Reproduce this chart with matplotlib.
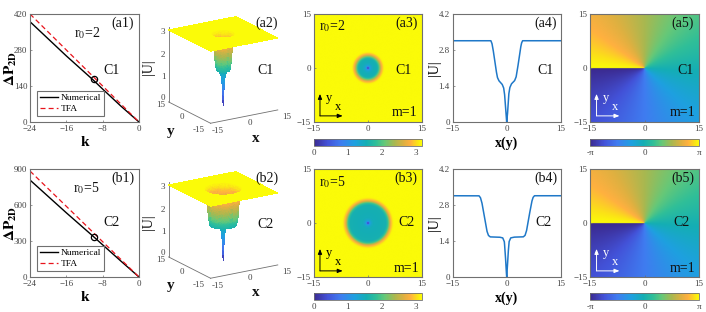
import numpy as np
import matplotlib
matplotlib.use("Agg")
import matplotlib.pyplot as plt
from matplotlib.colors import LinearSegmentedColormap

plt.rcParams['font.family'] = ['Liberation Serif', 'DejaVu Serif']
plt.rcParams['mathtext.fontset'] = 'stix'

W, H = 706, 312

# --- data ---
k_values = [-24, -16, -10, -8, -4, 0]
a_numerical = [390, 257, 162, 128, 62, 0]
a_tfa = [420, 280, 175, 140, 70, 0]
b_numerical = [808, 535, 336, 268, 133, 0]
b_tfa = [883, 589, 368, 294, 147, 0]
a_marker = (-10, 166)
b_marker = (-10, 336)

# cross-section curves (a4, b4)
a_line_r = [0, 0.2, 0.4, 0.6, 0.85, 1.3, 1.8, 2.2, 2.6, 3.0, 3.4, 3.8, 4.1, 4.4, 15]
a_line_u = [0, 0.26, 0.71, 1.10, 1.33, 1.48, 1.55, 1.61, 1.74, 2.06, 2.45, 2.84, 3.06, 3.16, 3.16]
b_line_r = [0, 0.18, 0.37, 0.65, 1.1, 2.0, 4.6, 5.1, 5.5, 6.0, 6.5, 6.9, 7.3, 7.7, 15]
b_line_u = [0, 0.35, 0.86, 1.37, 1.52, 1.55, 1.56, 1.62, 1.79, 2.2, 2.58, 2.9, 3.09, 3.16, 3.16]

# radial amplitude behind the maps and surfaces (a2, a3, b2, b3)
a_field_r = [0, 0.15, 0.3, 0.5, 0.8, 1.5, 2.6, 3.0, 3.4, 3.8, 4.4, 4.8, 15]
a_field_u = [0, 0.3, 0.7, 1.1, 1.35, 1.52, 1.58, 1.9, 2.4, 2.8, 3.12, 3.16, 3.16]
b_field_r = [0, 0.15, 0.3, 0.5, 0.8, 1.5, 5.0, 5.6, 6.0, 6.4, 7.0, 7.4, 15]
b_field_u = [0, 0.3, 0.7, 1.1, 1.35, 1.52, 1.58, 1.9, 2.5, 2.85, 3.12, 3.16, 3.16]

cmap_stops = [0, 0.13, 0.25, 0.38, 0.49, 0.58, 0.66, 0.75, 0.84, 0.9, 0.96, 1.0]
cmap_colors = ['#3b2a8f', '#4352d8', '#3f7cf0', '#1ea0e0', '#14aeb4', '#30bf98',
               '#66c878', '#a8b850', '#e0b040', '#ffb040', '#fbe018', '#fbfb08']
cmap = LinearSegmentedColormap.from_list('parula_like', list(zip(cmap_stops, cmap_colors)))
TICK = '#444444'
VMAX = 3.16


def box(x0, y0, x1, y1, **kw):
    return fig.add_axes([x0 / W, 1 - y1 / H, (x1 - x0) / W, (y1 - y0) / H], **kw)


def style(ax):
    for s in ax.spines.values():
        s.set_color('#707070')
        s.set_linewidth(0.8)
    ax.tick_params(direction='in', length=1.5, width=0.5, color='#707070',
                   labelsize=6.5, labelcolor=TICK, pad=2)


def label(px, py, text, size=10, **kw):
    kw.setdefault('color', '#111111')
    fig.text(px / W, 1 - py / H, text, fontsize=size, ha='center', va='center', **kw)


fig = plt.figure(figsize=(W / 100, H / 100), dpi=100)


def field(r_tab, u_tab, n=201):
    g = np.linspace(-15, 15, n)
    X, Y = np.meshgrid(g, g)
    return X, Y, np.interp(np.hypot(X, Y), r_tab, u_tab)


def panel1(top, ymax, yt, num, tfa, mark, tag, r0, cx, rpos, cpos, off):
    ax = box(30, top, 139, top + 108)
    style(ax)
    ax.plot(k_values, num, color='k', lw=1.0, label='Numerical')
    ax.plot(k_values, tfa, color='#e8141c', lw=0.9, ls=(0, (4, 2.5)), label='TFA')
    ax.plot(*mark, 'o', mfc='none', mec='k', ms=4.5, mew=0.9)
    ax.set_xlim(-24, 0)
    ax.set_ylim(0, ymax)
    ax.set_xticks([-24, -16, -8, 0])
    ax.set_yticks(yt)
    ax.set_xlabel('k', fontsize=11, fontweight='bold', labelpad=2.5)
    ax.set_ylabel(r'$\mathbf{\Delta P}_{\mathbf{2D}}$', fontsize=11)
    ax.yaxis.set_label_coords((19 - 30) / 109, 0.5)
    leg = ax.legend(loc='lower left', bbox_to_anchor=(7 / 109, 6 / 108), borderaxespad=0, fontsize=6.8,
                    fancybox=False, edgecolor='#707070', framealpha=1,
                    borderpad=0.3, labelspacing=0.25, handlelength=1.9, handletextpad=0.3)
    leg.get_frame().set_linewidth(0.8)
    label(123, off + 23, tag)
    label(rpos[0], off + rpos[1], r0)
    label(cpos[0], off + cpos[1], cx)


AX3 = (141, -9.5, 160, 0.833)


def panel2(off, r_tab, u_tab, tag, cx):
    ax = fig.add_axes([AX3[0] / W, 1 - (off + AX3[1] + AX3[2]) / H, AX3[2] / W, AX3[2] / H], projection='3d')
    ax.set_proj_type('ortho')
    ax.view_init(elev=18.5, azim=-122)
    ax.set_box_aspect((1, 1, 1), zoom=AX3[3])
    ax.set_axis_off()
    ax.patch.set_alpha(0)
    X, Y, Z = field(r_tab, u_tab)
    ax.plot_surface(X, Y, Z, cmap=cmap, vmin=0, vmax=VMAX, rstride=1, cstride=1,
                    linewidth=0, antialiased=False, shade=False)
    ax.set_xlim(-15, 15)
    ax.set_ylim(-15, 15)
    ax.set_zlim(0, 3.3)
    c = '#707070'
    ax.plot([-15, 15], [-15, -15], [0, 0], color=c, lw=0.6)
    ax.plot([-15, -15], [-15, 15], [0, 0], color=c, lw=0.6)
    ax.plot([-15, -15], [15, 15], [0, 3.3], color=c, lw=0.6)
    for t, px, py in [('-15', 218, 131), ('0', 250, 123), ('15', 287, 117),
                      ('-15', 199, 130), ('0', 182, 117), ('15', 161, 105),
                      ('0', 163, 98), ('1', 163, 77), ('2', 163, 55), ('3', 163, 32)]:
        label(px, off + py, t, size=6.5, color=TICK)
    label(256, off + 138, 'x', size=11, fontweight='bold')
    label(171, off + 131, 'y', size=11, fontweight='bold')
    label(149, off + 67, '|U|', rotation=90)
    label(267, off + 23, tag)
    label(266, off + 70, cx)


def cbar(im, cy0, x0, x1, ticks, labels):
    cax = box(x0, cy0, x1, cy0 + 7.5)
    cb = fig.colorbar(im, cax=cax, orientation='horizontal')
    cb.set_ticks(ticks)
    cb.set_ticklabels(labels)
    cb.outline.set_edgecolor('#707070')
    cb.outline.set_linewidth(0.6)
    cax.tick_params(length=0, labelsize=6.5, labelcolor=TICK, pad=2)


def arrows(ax, color):
    for dx, dy in [(6.3, 0), (0, 6.1)]:
        ax.annotate('', xy=(-13.2 + dx, -13.3 + dy), xytext=(-13.2, -13.3),
                    arrowprops=dict(arrowstyle='-|>,head_width=0.12,head_length=0.3', color=color,
                                    lw=0.7, shrinkA=0, shrinkB=0))
    ax.text(-8.2, -10.8, 'x', fontsize=9, color=color, ha='center', va='center')
    ax.text(-10.7, -8.3, 'y', fontsize=9, color=color, ha='center', va='center')


def panel3(top, r_tab, u_tab, tag, r0, cx, cy, pos):
    ax = box(313.5, top, 421.5, top + 108)
    style(ax)
    X, Y, Z = field(r_tab, u_tab, 301)
    im = ax.imshow(Z, extent=(-15, 15, -15, 15), origin='lower', cmap=cmap, vmin=0, vmax=VMAX, aspect='auto')
    ax.set_xticks([-15, 0, 15])
    ax.set_yticks([-15, 0, 15])
    arrows(ax, 'k')
    for (px, py), t in zip(pos, [r0, tag, cx, 'm=1']):
        label(px, py, t)
    cbar(im, cy, 313.5, 421.5, [0, 1, 2, 3], ['0', '1', '2', '3'])


def panel4(top, r_tab, u_tab, tag, cx, cxpos):
    ax = box(452.7, top, 560.7, top + 108)
    style(ax)
    x = np.linspace(-15, 15, 1501)
    ax.plot(x, np.interp(np.abs(x), r_tab, u_tab), color='#1f78c8', lw=1.1)
    ax.set_xlim(-15, 15)
    ax.set_ylim(0, 4.2)
    ax.set_xticks([-15, 0, 15])
    ax.set_yticks([0, 1.4, 2.8, 4.2])
    ax.set_yticklabels(['0', '1.4', '2.8', '4.2'])
    ax.set_xlabel('x(y)', fontsize=10, fontweight='bold', labelpad=2.5)
    ax.set_ylabel('|U|', fontsize=10)
    ax.yaxis.set_label_coords((441 - 452.7) / 108, 0.5)
    label(546, top + 9, tag)
    label(cxpos[0], cxpos[1], cx)


def panel5(top, tag, cx, cy, pos):
    ax = box(590, top, 699, top + 108)
    style(ax)
    g = np.linspace(-15, 15, 401)
    X, Y = np.meshgrid(g, g)
    im = ax.imshow(np.arctan2(Y, X), extent=(-15, 15, -15, 15), origin='lower', cmap=cmap,
                   vmin=-np.pi, vmax=np.pi, aspect='auto')
    ax.set_xticks([-15, 0, 15])
    ax.set_yticks([-15, 0, 15])
    arrows(ax, 'white')
    for (px, py), t in zip(pos, [tag, cx, 'm=1']):
        label(px, py, t)
    cbar(im, cy, 590, 699, [-np.pi, 0, np.pi], ['-π', '0', 'π'])


panel1(14, 420, [0, 140, 280, 420], a_numerical, a_tfa, a_marker, '(a1)', 'r$_0$=2', 'C1', (87, 33), (112, 70), 0)
panel1(169, 900, [0, 300, 600, 900], b_numerical, b_tfa, b_marker, '(b1)', 'r$_0$=5', 'C2', (86, 33), (111, 68), 155)
panel2(0, a_field_r, a_field_u, '(a2)', 'C1')
panel2(155, b_field_r, b_field_u, '(b2)', 'C2')
panel3(14, a_field_r, a_field_u, '(a3)', 'r$_0$=2', 'C1', 138.5, [(332, 26), (407, 23), (404, 70), (405, 113)])
panel3(169, b_field_r, b_field_u, '(b3)', 'r$_0$=5', 'C2', 292.5, [(332, 182), (406, 178), (406, 223), (406, 268)])
panel4(14, a_line_r, a_line_u, '(a4)', 'C1', (546, 70))
panel4(169, b_line_r, b_line_u, '(b4)', 'C2', (544, 223))
panel5(14, '(a5)', 'C1', 138.5, [(683, 23), (686, 70), (682, 113)])
panel5(169, '(b5)', 'C2', 292.5, [(683, 178), (682, 223), (683, 268)])

fig.savefig('out.png', dpi=100)
